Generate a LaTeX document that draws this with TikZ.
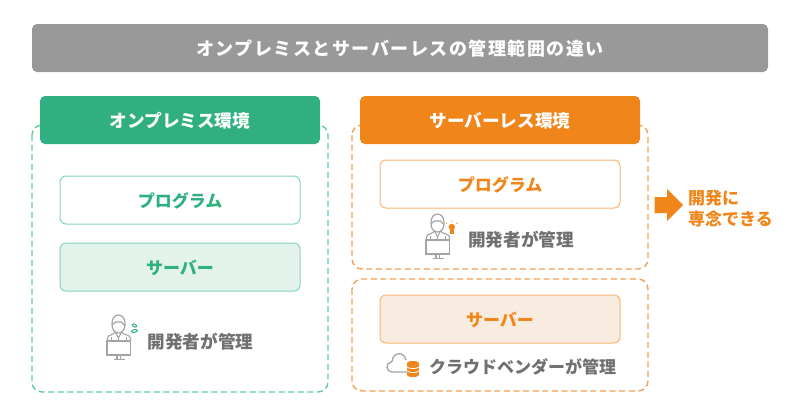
\documentclass[tikz,border=0pt]{standalone}
\usepackage{fontspec}
\usepackage{xcolor}
\newfontfamily\jpfont{Noto Sans CJK JP}
\newfontfamily\jpwide[LetterSpace=8.5]{Noto Sans CJK JP}
\definecolor{titlegray}{HTML}{999999}
\definecolor{txtgray}{HTML}{707070}
\definecolor{icongray}{HTML}{A4A4A4}
\definecolor{green}{HTML}{30B080}
\definecolor{greenline}{HTML}{85D5B9}
\definecolor{greendash}{HTML}{5FC9A6}
\definecolor{greenfill}{HTML}{E3F3EC}
\definecolor{orange}{HTML}{F0861A}
\definecolor{orangeline}{HTML}{F7B473}
\definecolor{orangedash}{HTML}{F3A050}
\definecolor{orangefill}{HTML}{F8EBE0}
\tikzset{
  txt/.style = {font=\jpfont\bfseries\fontsize{17}{20}\selectfont, inner sep=0pt, yshift=-0.6pt},
  bigtxt/.style = {font=\jpfont\bfseries\fontsize{17.6}{20}\selectfont, inner sep=0pt, yshift=-0.6pt},
  titlebox/.style = {fill=titlegray, rounded corners=5pt, text=white, inner sep=0pt,
    font=\jpwide\bfseries\fontsize{18}{22}\selectfont},
  headbox/.style = {rounded corners=5pt, text=white, inner sep=0pt, minimum width=280pt, minimum height=48pt},
  itembox/.style = {draw, line width=1pt, rounded corners=6pt, inner sep=0pt, minimum width=240pt, minimum height=48pt},
  dashbox/.style = {line width=1.4pt, dash pattern=on 6pt off 3.6pt, rounded corners=10pt},
  person/.pic = {
    \draw[icongray, line width=1.2pt, fill=white] (-6.5,-17) .. controls (-7,-29) and (7,-29) .. (6.5,-17)
      .. controls (7,-11) and (3,-8) .. (0,-8) .. controls (-3,-8) and (-7,-11) .. (-6.5,-17) -- cycle;
    \draw[icongray, line width=1.1pt] (-6.5,-16) -- (-3,-19) -- (3,-19) -- (6.5,-15);
    \draw[icongray, line width=1.1pt] (-11,0) -- (-11,-3) .. controls (-11,-6) and (-5,-6) .. (-3,-9) -- (0,-3) -- (3,-9)
      .. controls (5,-6) and (12,-6) .. (12,-3) -- (12,0);
    \draw[icongray, line width=0.9pt] (-7,-4) -- (-7,0) (8,-4) -- (8,0) (0,-3) -- (0,0);
    \draw[icongray, line width=1.2pt, fill=white] (-11.5,0) rectangle (12,14);
    \draw[icongray, line width=1.1pt] (-1.5,14) -- (-1.5,18) (2,14) -- (2,18) (-5,18.5) -- (6,18.5);
  }
}

\begin{document}
\begin{tikzpicture}[x=1pt, y=-1pt]
  \useasboundingbox (0,0) rectangle (800,416);

  % titolo
  \node (title) [titlebox, minimum width=736pt, minimum height=48pt] at (400,48) {};
  \node (titletxt) [inner sep=0pt, text=white, font=\jpwide\bfseries\fontsize{18}{22}\selectfont, yshift=-0.6pt] at (400,48) {オンプレミスとサーバーレスの管理範囲の違い};

  % colonna sinistra
  \draw[dashbox, greendash] (32,125) rectangle (328,392);
  \node (onpre) [headbox, fill=green] at (180,120) {};
  \node (onpretxt) [bigtxt, text=white] at (180,120) {オンプレミス環境};
  \node (prog1) [itembox, greenline] at (180,200) {};
  \node (prog1txt) [txt, text=green] at (180,200) {プログラム};
  \node (serv1) [itembox, greenline, fill=greenfill] at (180,267) {};
  \node (serv1txt) [txt, text=green] at (180,267) {サーバー};
  \pic at (118.5,341) {person};
  % gocce
  \draw[green, line width=1pt, rotate around={-30:(134.5,325.5)}] (134.5,325.5) ellipse (2.2pt and 1.4pt);
  \draw[green, line width=1pt, rotate around={10:(134.5,331)}] (134.5,331) ellipse (3pt and 1.3pt);
  \node (mgr1) [bigtxt, text=txtgray] at (200.5,341) {開発者が管理};

  % colonna destra
  \draw[dashbox, orangedash] (352,125) rectangle (648,269);
  \node (serverless) [headbox, fill=orange] at (500,120) {};
  \node (serverlesstxt) [bigtxt, text=white] at (500,120) {サーバーレス環境};
  \node (prog2) [itembox, orangeline] at (500,184) {};
  \node (prog2txt) [txt, text=orange] at (500,184) {プログラム};
  \pic at (437.5,240) {person};
  % lampadina
  \fill[orange] (451.8,227) circle (3.2pt);
  \fill[orange] (450,229) rectangle (453.6,234);
  \draw[orange, line width=0.8pt] (447,223.6) -- (446,222.6) (451.8,222) -- (451.8,220.6) (456.6,223.6) -- (457.6,222.6);
  \node (mgr2) [bigtxt, text=txtgray] at (521,239) {開発者が管理};

  \draw[dashbox, orangedash] (352,279) rectangle (648,391);
  \node (serv2) [itembox, orangeline, fill=orangefill] at (500,319) {};
  \node (serv2txt) [txt, text=orange] at (500,319) {サーバー};
  % nuvola
  \draw[icongray, line width=1.3pt, rounded corners=1pt] (407,372) -- (393,372)
    .. controls (386,372) and (385,363) .. (392,362)
    .. controls (393,352) and (404,351) .. (406,360);
  % database
  \fill[orange] (407,363) rectangle (419,375);
  \fill[orange] (413,363) ellipse (6pt and 2pt);
  \fill[orange] (413,375) ellipse (6pt and 2pt);
  \foreach \ypos in {367,371} {
    \draw[white, line width=0.8pt] (407,\ypos) .. controls (409,\ypos+2) and (417,\ypos+2) .. (419,\ypos);
  }
  \node (mgr3) [txt, text=txtgray] at (522.5,366) {クラウドベンダーが管理};

  % freccia
  \coordinate (arrowstart) at (654.5,205);
  \fill[orange] (arrowstart) ++(0,-8) -- ++(12.5,0) -- ++(0,-8) -- ++(16,16) -- ++(-16,16) -- ++(0,-8) -- ++(-12.5,0) -- cycle;
  \node (focus1) [txt, text=orange, anchor=west] at (688,197) {開発に};
  \node (focus2) [txt, text=orange, anchor=west] at (688,218) {専念できる};
\end{tikzpicture}
\end{document}
